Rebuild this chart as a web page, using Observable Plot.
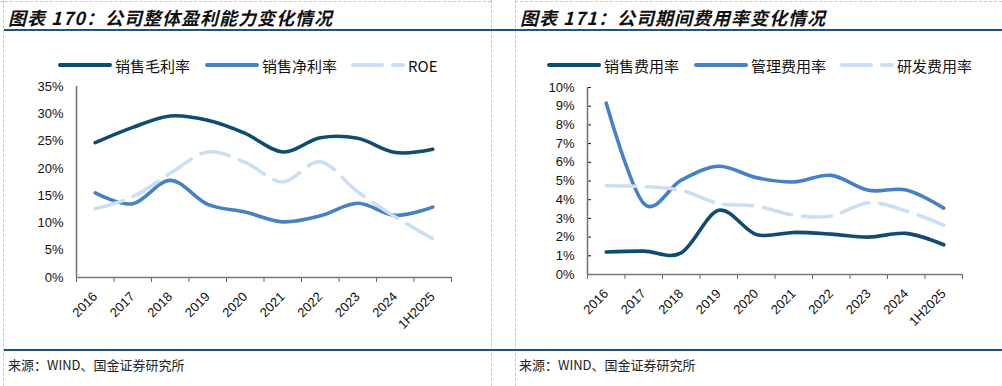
<!DOCTYPE html>
<html><head><meta charset="utf-8">
<script src="https://cdn.jsdelivr.net/npm/d3@7"></script>
<script src="https://cdn.jsdelivr.net/npm/@observablehq/plot@0.6"></script>
<style>
body{margin:0;width:1002px;height:386px;position:relative;background:#fff;overflow:hidden;font-family:"Noto Sans CJK SC",sans-serif;}
.abs{position:absolute;}
.title{font-weight:bold;font-style:italic;font-size:18px;color:#111;top:4px;white-space:nowrap;letter-spacing:1px;}
.src{font-size:13px;color:#222;top:355px;white-space:nowrap;}
.hline{height:2px;background:#1b5778;left:4px;right:0;}
.vdash{border-left:1px dashed #c8c8c8;top:0;bottom:0;width:0;}
.leg{top:55px;height:20px;font-size:15px;color:#111;white-space:nowrap;display:flex;align-items:center;}
.leg svg{display:block}
</style>
</head><body>
<div id="root"></div>
<script>
const years = ["2016","2017","2018","2019","2020","2021","2022","2023","2024","1H2025"];
// chart 170 (%)
const grossMargin = [24.7,27.5,29.6,28.8,26.4,23.0,25.6,25.5,22.9,23.5];
const netMargin   = [15.5,13.5,17.8,13.4,12.0,10.2,11.3,13.6,11.4,12.9];
const roe         = [12.6,14.8,19.1,23.0,21.1,17.5,21.2,15.7,11.1,7.1];
const yTicks1 = [0,5,10,15,20,25,30,35];
// chart 171 (%)
const salesExp = [1.2,1.25,1.16,3.43,2.14,2.25,2.16,2.0,2.2,1.59];
const adminExp = [9.16,3.8,5.05,5.79,5.18,4.95,5.3,4.5,4.52,3.55];
const rdExp    = [4.75,4.7,4.5,3.8,3.66,3.18,3.13,3.84,3.4,2.64];
const yTicks2 = [0,1,2,3,4,5,6,7,8,9,10];

const names1 = ["销售毛利率","销售净利率","ROE"];
const names2 = ["销售费用率","管理费用率","研发费用率"];
const colors = ["#0f4c70","#4682c3","#cadff2"];

const root = document.getElementById("root");
function add(html){ root.insertAdjacentHTML("beforeend", html); }

add(`<div class="abs vdash" style="left:3px"></div>`);
add(`<div class="abs vdash" style="left:491px"></div>`);
add(`<div class="abs vdash" style="left:515px"></div>`);
add(`<div class="abs" style="left:0;width:491px;top:1px;border-top:1px dashed #c8c8c8"></div>`);
add(`<div class="abs" style="left:515px;right:0;top:1px;border-top:1px dashed #c8c8c8"></div>`);
add(`<div class="abs hline" style="top:29px"></div>`);
add(`<div class="abs hline" style="top:349px"></div>`);
add(`<div class="abs title" style="left:8px">图表 170：公司整体盈利能力变化情况</div>`);
add(`<div class="abs title" style="left:520px">图表 171：公司期间费用率变化情况</div>`);
add(`<div class="abs src" style="left:8px">来源：WIND、国金证券研究所</div>`);
add(`<div class="abs src" style="left:519px">来源：WIND、国金证券研究所</div>`);

function legItem(x, i, label){
  const dash = i===2 ? `stroke-dasharray="29,11"` : "";
  add(`<div class="abs leg" style="left:${x}px"><svg width="54" height="10"><line x1="2" x2="52" y1="5" y2="5" stroke="${colors[i]}" stroke-width="4" stroke-linecap="round" ${dash}/></svg><span style="margin-left:3px">${label}</span></div>`);
}
legItem(58,0,names1[0]); legItem(205,1,names1[1]); legItem(351,2,names1[2]);
legItem(547,0,names2[0]); legItem(694,1,names2[1]); legItem(840,2,names2[2]);

function makeData(series, names){
  const out = [];
  series.forEach((s, k) => s.forEach((v, i) => out.push({name: names[k], k, x: i + 0.5, y: v})));
  return out;
}

function chart(series, names, yTicks, opts){
  const data = makeData(series, names);
  const lines = [0,1,2].map(k => Plot.line(data.filter(d => d.k === k), {
    x: "x", y: "y", stroke: colors[k], strokeWidth: 3.6, curve: "cardinal", tension: 0,
    strokeLinecap: "round", strokeDasharray: k === 2 ? "29,11" : null
  }));
  return Plot.plot({
    width: opts.width, height: opts.height,
    marginLeft: opts.ml, marginRight: 20, marginTop: opts.mt, marginBottom: opts.mb,
    style: {fontFamily: "'Liberation Sans', Arial, sans-serif", fontSize: "13px", color: "#111", background: "transparent"},
    x: {domain: [0, 10]},
    y: {domain: [yTicks[0], yTicks[yTicks.length - 1]]},
    marks: [
      Plot.axisY({ticks: yTicks, tickFormat: d => d + "%", tickSize: 0, tickPadding: 13, label: null, fontSize: 13}),
      opts.inner ? Plot.axisY({ticks: yTicks, tickFormat: () => "", tickSize: -4, label: null, stroke: "#111"}) : null,
      Plot.axisX({ticks: d3.range(0, 11), tickFormat: () => "", tickSize: 5, label: null, stroke: "#666"}),
      Plot.axisX({ticks: years.map((_, i) => i + 0.5), tickFormat: v => years[Math.floor(v)], tickRotate: -45, tickSize: 0, tickPadding: 17, label: null, fontSize: 13}),
      Plot.ruleY([yTicks[0]], {stroke: "#777", strokeWidth: 1.6}),
      Plot.ruleX([0], {stroke: "#777", strokeWidth: 1.6}),
      ...lines
    ]
  });
}

const c1 = chart([grossMargin, netMargin, roe], names1, yTicks1, {width: 471, height: 267, ml: 76, mt: 16, mb: 60});
c1.style.position = "absolute"; c1.style.left = "0px"; c1.style.top = "70px";
root.appendChild(c1);
const c2 = chart([salesExp, adminExp, rdExp], names2, yTicks2, {width: 482, height: 264, ml: 87, mt: 17, mb: 60, inner: true});
c2.style.position = "absolute"; c2.style.left = "500px"; c2.style.top = "70px";
root.appendChild(c2);
</script>
</body></html>
